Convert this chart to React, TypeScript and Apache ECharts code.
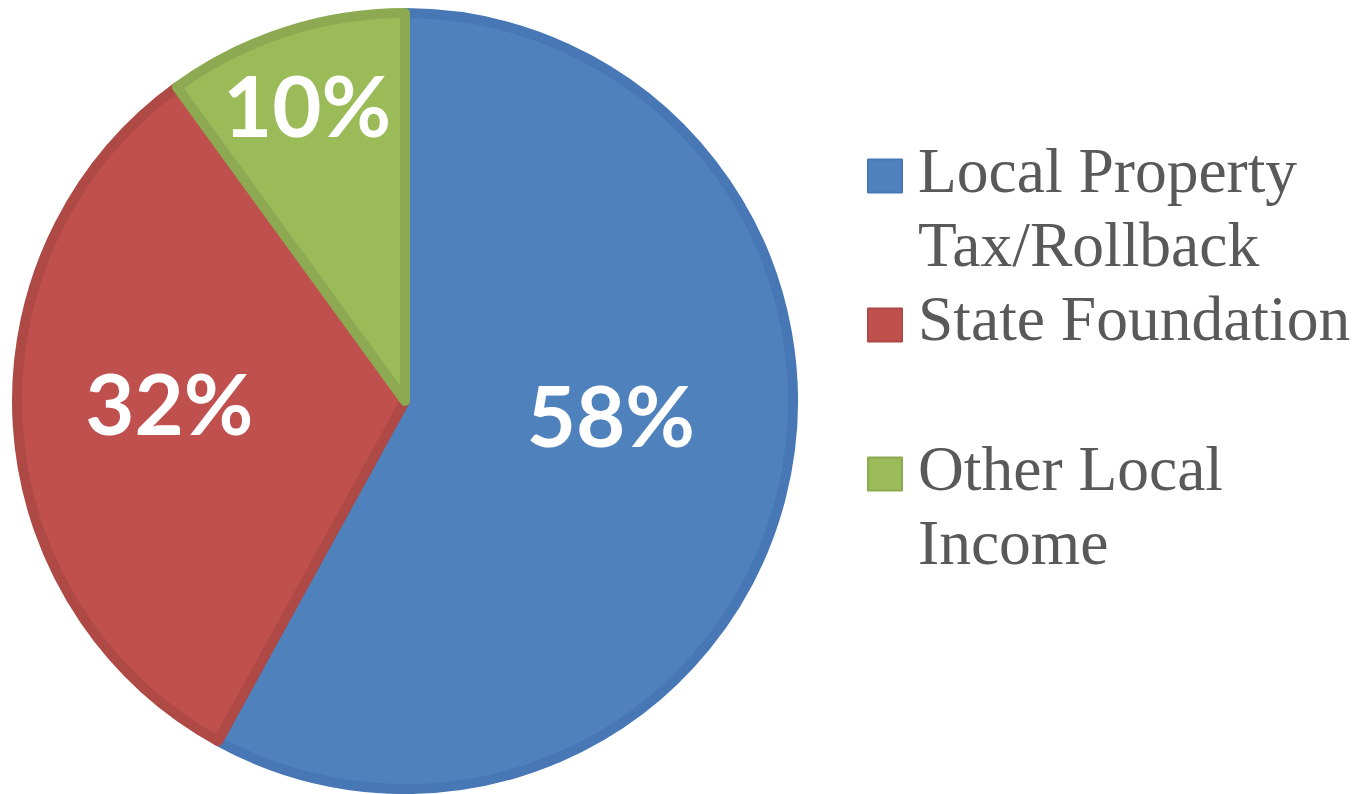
import React, { useEffect, useRef } from "react";
import * as echarts from "echarts";

const categories = ["Local Property Tax/Rollback", "State Foundation", "Other Local Income"];
const legendLines = [["Local Property", "Tax/Rollback"], ["State Foundation"], ["Other Local", "Income"]];
const values = [58, 32, 10];
const fillColors = ["#4F81BD", "#C0504D", "#9BBB59"];
const borderColors = ["#4778B5", "#AE4946", "#8DAA52"];
// horizontal label shifts via padding [top, right, bottom, left]
const labelPaddings = [
  [0, 0, 0, 30],
  [0, 78, 0, 0],
  [0, 74, 0, 0],
];

export default function App() {
  const ref = useRef<HTMLDivElement>(null);
  useEffect(() => {
    if (!ref.current) return;
    const chart = echarts.init(ref.current, undefined, { renderer: "svg" });
    const legendFont = { fontFamily: "Liberation Serif", fontSize: 63.5, lineHeight: 74, color: "#595959" };
    chart.setOption({
      animation: false,
      backgroundColor: "#ffffff",
      legend: {
        orient: "vertical",
        left: 867,
        top: 71,
        padding: 0,
        itemGap: 0,
        itemWidth: 34,
        itemHeight: 33,
        selectedMode: false,
        icon: "rect",
        formatter: (name: string) => {
          const lines = legendLines[categories.indexOf(name)];
          const body = lines.map((l) => "{t|" + l + "}").join("\n");
          return lines.length > 1 ? "{top| }\n" + body : body + "\n{bot| }";
        },
        textStyle: {
          ...legendFont,
          padding: [0, 0, 0, 11],
          rich: {
            t: legendFont,
            top: { fontSize: 2, lineHeight: 62 },
            bot: { fontSize: 2, lineHeight: 14 },
          },
        },
        data: categories.map((c, i) => ({
          name: c,
          itemStyle: { color: fillColors[i], borderColor: borderColors[i], borderWidth: 2 },
        })),
      },
      series: [
        {
          type: "pie",
          center: [405, 401],
          radius: [0, 388],
          startAngle: 90,
          clockwise: true,
          avoidLabelOverlap: false,
          labelLine: { show: false },
          label: {
            show: true,
            position: "inside",
            color: "#ffffff",
            formatter: (p: any) => "{v|" + Math.round(p.percent) + "%}\n{s" + p.dataIndex + "| }",
            rich: {
              v: { color: "#ffffff", fontFamily: "Lato", fontWeight: "bold", fontSize: 85, lineHeight: 90 },
              s0: { fontSize: 2, lineHeight: 72 },
              s1: { fontSize: 2, lineHeight: 22 },
              s2: { fontSize: 2, lineHeight: 220 },
            },
          },
          emphasis: { disabled: true },
          data: categories.map((c, i) => ({
            name: c,
            value: values[i],
            itemStyle: { color: fillColors[i], borderColor: borderColors[i], borderWidth: 10 },
            label: { padding: labelPaddings[i] },
          })),
        },
      ],
    });
    return () => chart.dispose();
  }, []);
  return (
    <div
      ref={ref}
      style={{ position: "fixed", left: 0, top: 0, width: 1356, height: 794 }}
    />
  );
}
